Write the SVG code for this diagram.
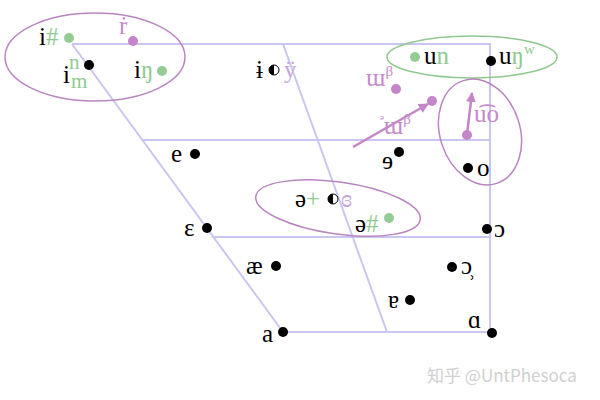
<svg xmlns="http://www.w3.org/2000/svg" width="600" height="400" viewBox="0 0 600 400">
<defs>
<style>
.ln{stroke:#c9c6f2;stroke-width:2;fill:none}
.t{font-family:"Liberation Serif","DejaVu Serif",serif;font-size:25px;fill:#000}
.g{fill:#8fcb8f}
.p{fill:#c58ac9}
.lp{fill:#c6a6d6}
.bd{fill:#000}
.gd{fill:#94cc94}
.pd{fill:#c585c9}
.ep{fill:none;stroke:#b985c0;stroke-width:1.5}
.eg{fill:none;stroke:#8fc98f;stroke-width:1.5}
.ar{stroke:#c585c9;stroke-width:2.5;fill:none}
</style>
<marker id="ah" viewBox="0 0 10 10" refX="9" refY="5" markerWidth="4" markerHeight="4" orient="auto"><path d="M0,0L10,5L0,10z" fill="#c585c9"/></marker>
</defs>
<rect width="600" height="400" fill="#fff"/>
<g id="connectors">
<path class="ln" d="M72,44H490V332M72,44L283,332H490M283,44L387,332M142,140H490M212,237H490"/>
<line class="ar" x1="353" y1="147" x2="428" y2="104" marker-end="url(#ah)"/>
<line class="ar" x1="467" y1="134" x2="472" y2="93" marker-end="url(#ah)"/>
</g>
<g id="groups">
<ellipse class="ep" cx="95" cy="57" rx="90" ry="44"/>
<ellipse class="eg" cx="472" cy="57" rx="85" ry="21"/>
<ellipse class="ep" cx="480" cy="132" rx="40" ry="54" transform="rotate(-18 480 132)"/>
<ellipse class="ep" cx="338" cy="208" rx="83" ry="26" transform="rotate(8 338 208)"/>
</g>
<g id="i-hash"><text class="t" x="39" y="45">i<tspan class="g">#</tspan></text><circle class="gd" cx="69" cy="38" r="5"/></g>
<g id="r-dot"><text class="t p" x="119" y="34">ṙ</text><circle class="pd" cx="133" cy="41" r="5"/></g>
<g id="i-nm"><text class="t" x="63" y="83">i<tspan class="g" font-size="21" dx="-1" dy="-14">n</tspan><tspan class="g" font-size="21" x="71" y="88">m</tspan></text><circle class="bd" cx="89" cy="65" r="5"/></g>
<g id="i-eng"><text class="t" x="134" y="78">i<tspan class="g">ŋ</tspan></text><circle class="gd" cx="162" cy="71" r="5"/></g>
<g id="i-bar"><text class="t" x="256" y="78">ɨ</text><circle cx="274" cy="70" r="5" fill="#fff" stroke="#000" stroke-width="1"/><path d="M274,65A5,5 0 0 0 274,75Z" fill="#000"/><text class="t lp" x="284" y="78">ÿ</text></g>
<g id="u-n"><circle class="gd" cx="415" cy="57" r="5"/><text class="t" x="424" y="64">u<tspan class="g">n</tspan></text></g>
<g id="u-eng-w"><circle class="bd" cx="491" cy="61" r="5"/><text class="t" x="499" y="64">u<tspan class="g">ŋ</tspan><tspan class="g" font-size="15" dy="-10">w</tspan></text></g>
<g id="w-beta"><text class="t p" x="366" y="86">ɯ<tspan font-size="15" dy="-10">β</tspan></text><circle class="pd" cx="396" cy="89" r="5"/></g>
<g id="w-beta-2"><circle class="pd" cx="432" cy="101" r="5"/><text class="t p" x="380" y="134"><tspan font-size="15" dy="-10">ᵊ</tspan><tspan dy="10">ɯ</tspan><tspan font-size="15" dy="-10">β</tspan></text></g>
<g id="u-o"><circle class="pd" cx="467" cy="135" r="5"/><text class="t p" x="474" y="122">u͡o</text></g>
<g id="o"><circle class="bd" cx="468" cy="168" r="5"/><text class="t" x="477" y="176">o</text></g>
<g id="e"><text class="t" x="171" y="162">e</text><circle class="bd" cx="195" cy="154" r="5"/></g>
<g id="e-rev"><text class="t" x="382" y="169">ɘ</text><circle class="bd" cx="399" cy="152" r="5"/></g>
<g id="eps"><text class="t" x="184" y="236">ɛ</text><circle class="bd" cx="207" cy="228" r="5"/></g>
<g id="open-o"><circle class="bd" cx="487" cy="229" r="5"/><text class="t" x="494" y="237">ɔ</text></g>
<g id="schwa-plus"><text class="t" x="295" y="207">ə<tspan class="g">+</tspan></text><circle cx="333" cy="199" r="5" fill="#fff" stroke="#000" stroke-width="1"/><path d="M333,194A5,5 0 0 0 333,204Z" fill="#000"/><text class="t lp" x="341" y="207">ɞ</text></g>
<g id="schwa-hash"><text class="t" x="355" y="232">ə<tspan class="g">#</tspan></text><circle class="gd" cx="389" cy="218" r="5"/></g>
<g id="ae"><text class="t" x="246" y="274">æ</text><circle class="bd" cx="276" cy="266" r="5"/></g>
<g id="open-o-2"><circle class="bd" cx="452" cy="267" r="5"/><text class="t" x="461" y="274">ɔ̹</text></g>
<g id="turned-a"><text class="t" x="388" y="308">ɐ</text><circle class="bd" cx="410" cy="300" r="5"/></g>
<g id="a"><text class="t" x="262" y="342">a</text><circle class="bd" cx="283" cy="332" r="5"/></g>
<g id="alpha"><text class="t" x="468" y="328">ɑ</text><circle class="bd" cx="492" cy="333" r="5"/></g>
<text x="427" y="382" font-family="'Noto Sans CJK SC','Liberation Sans',sans-serif" font-size="17" fill="#d0d0d0">知乎 @UntPhesoca</text>
</svg>
